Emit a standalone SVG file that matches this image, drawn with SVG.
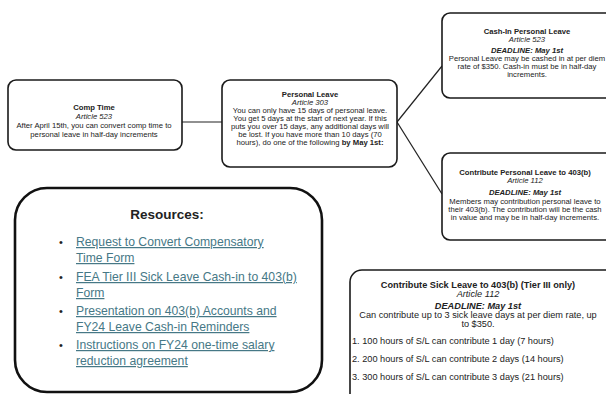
<svg xmlns="http://www.w3.org/2000/svg" width="606" height="394" viewBox="0 0 606 394">
<style>
.box{fill:#fff;stroke:#1a1a1a;stroke-width:1.6}
.big{fill:#fff;stroke:#111;stroke-width:2.6}
.conn{stroke:#222;stroke-width:1.2;fill:none}
text{font-family:"Liberation Sans",Arial,sans-serif;fill:#222;text-anchor:middle}
.s{font-size:7.7px}
.m{font-size:9.2px}
.b{font-weight:bold}
.i{font-style:italic}
.link{font-size:12.2px;fill:#467886;text-anchor:start;text-decoration:underline}
.bul{font-size:11px;text-anchor:start}
</style>
<rect width="606" height="394" fill="#fff"/>
<g id="connectors">
<line class="conn" x1="182" y1="122" x2="222" y2="122"/>
<line class="conn" x1="397" y1="122" x2="442" y2="66"/>
<line class="conn" x1="397" y1="122" x2="442" y2="194"/>
</g>
<g id="comp-time">
<rect class="box" x="8" y="80" width="174" height="70" rx="8"/>
<text class="s b" x="94" y="110">Comp Time</text>
<text class="s i" x="94" y="119">Article 523</text>
<text class="s" x="94" y="128">After April 15th, you can convert comp time to</text>
<text class="s" x="94" y="137">personal leave in half-day increments</text>
</g>
<g id="personal-leave">
<rect class="box" x="222" y="80" width="175" height="87" rx="8"/>
<text class="s b" x="310" y="97">Personal Leave</text>
<text class="s i" x="310" y="105">Article 303</text>
<text class="s" x="310" y="113">You can only have 15 days of personal leave.</text>
<text class="s" x="310" y="121">You get 5 days at the start of next year. If this</text>
<text class="s" x="310" y="129">puts you over 15 days, any additional days will</text>
<text class="s" x="310" y="137">be lost. If you have more than 10 days (70</text>
<text class="s" x="310" y="145">hours), do one of the following <tspan class="b">by May 1st:</tspan></text>
</g>
<g id="cash-in">
<rect class="box" x="442" y="13" width="190" height="85" rx="8"/>
<text class="s b" x="527" y="34">Cash-In Personal Leave</text>
<text class="s i" x="527" y="42">Article 523</text>
<text class="s b i" x="527" y="53">DEADLINE: May 1st</text>
<text class="s" x="527" y="61">Personal Leave may be cashed in at per diem</text>
<text class="s" x="527" y="69">rate of $350. Cash-in must be in half-day</text>
<text class="s" x="527" y="77">increments.</text>
</g>
<g id="contribute-personal">
<rect class="box" x="442" y="153" width="190" height="87" rx="8"/>
<text class="s b" x="525" y="175">Contribute Personal Leave to 403(b)</text>
<text class="s i" x="525" y="183">Article 112</text>
<text class="s b i" x="525" y="195">DEADLINE: May 1st</text>
<text class="s" x="525" y="204">Members may contribution personal leave to</text>
<text class="s" x="525" y="212">their 403(b). The contribution will be the cash</text>
<text class="s" x="525" y="220">in value and may be in half-day increments.</text>
</g>
<g id="resources">
<rect class="big" x="15" y="188" width="307" height="204" rx="32"/>
<text x="167" y="219" style="font-size:13.5px;font-weight:bold">Resources:</text>
<text class="bul" x="59" y="246">•</text>
<text class="link" x="76" y="246">Request to Convert Compensatory</text>
<text class="link" x="76" y="262">Time Form</text>
<text class="bul" x="59" y="281">•</text>
<text class="link" x="76" y="281">FEA Tier III Sick Leave Cash-in to 403(b)</text>
<text class="link" x="76" y="297">Form</text>
<text class="bul" x="59" y="315">•</text>
<text class="link" x="76" y="315">Presentation on 403(b) Accounts and</text>
<text class="link" x="76" y="331">FY24 Leave Cash-in Reminders</text>
<text class="bul" x="59" y="349">•</text>
<text class="link" x="76" y="349">Instructions on FY24 one-time salary</text>
<text class="link" x="76" y="365">reduction agreement</text>
</g>
<g id="contribute-sick">
<rect class="box" x="350" y="270" width="280" height="140" rx="12"/>
<text class="m b" x="478" y="288">Contribute Sick Leave to 403(b) (Tier III only)</text>
<text class="m i" x="478" y="297">Article 112</text>
<text class="m b i" x="478" y="309">DEADLINE: May 1st</text>
<text class="m" x="478" y="318">Can contribute up to 3 sick leave days at per diem rate, up</text>
<text class="m" x="478" y="327">to $350.</text>
<text class="m" x="352" y="344" style="text-anchor:start">1. 100 hours of S/L can contribute 1 day (7 hours)</text>
<text class="m" x="352" y="362" style="text-anchor:start">2. 200 hours of S/L can contribute 2 days (14 hours)</text>
<text class="m" x="352" y="380" style="text-anchor:start">3. 300 hours of S/L can contribute 3 days (21 hours)</text>
</g>
</svg>
